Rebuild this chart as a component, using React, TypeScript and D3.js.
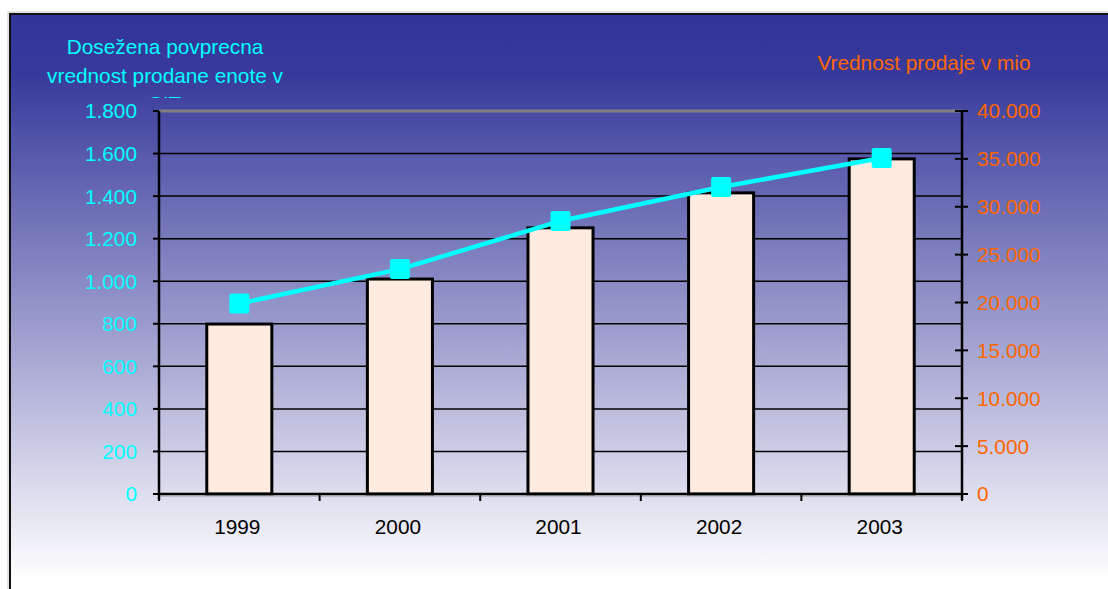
import React from 'react';
import * as d3 from 'd3';

const years = ['1999', '2000', '2001', '2002', '2003'];
const avgUnitValue = [895, 1057, 1283, 1443, 1579];
const salesMio = [17750, 22450, 27800, 31450, 35000];
const leftTicks = [0, 200, 400, 600, 800, 1000, 1200, 1400, 1600, 1800];
const rightTicks = [0, 5000, 10000, 15000, 20000, 25000, 30000, 35000, 40000];
const leftTitle = ['Dosežena povprecna', 'vrednost prodane enote v', 'SIT'];
const rightTitle = 'Vrednost prodaje v mio';

const W = 1108;
const H = 589;
const plot = { left: 159, right: 962, top: 111, bottom: 494 };
const FONT = 'Liberation Sans, Arial, sans-serif';
const FS = 20.8;

const fmt = (v: number) => {
  const s = String(v);
  return s.replace(/\B(?=(\d{3})+(?!\d))/g, '.');
};

export default function App() {
  const x = d3.scaleBand<string>().domain(years).range([plot.left, plot.right]).paddingInner(0).paddingOuter(0);
  const yL = d3.scaleLinear().domain([0, 1800]).range([plot.bottom, plot.top]);
  const yR = d3.scaleLinear().domain([0, 40000]).range([plot.bottom, plot.top]);
  const bw = x.bandwidth();
  const barW = bw * 0.405;
  const line = d3
    .line<number>()
    .x((_, i) => (x(years[i]) as number) + bw / 2)
    .y((d) => yL(d));

  const boundaries = d3.range(years.length + 1).map((i) => plot.left + i * bw);

  return (
    <svg width={W} height={H} style={{ position: 'absolute', left: 0, top: 0, display: 'block' }}>
      <defs>
        <linearGradient id="bg" x1="0" y1="0" x2="0" y2="1" gradientUnits="objectBoundingBox">
          <stop offset="0" stopColor="#333399" />
          <stop offset="0.1" stopColor="#383a9b" />
          <stop offset="0.93" stopColor="#ffffff" />
          <stop offset="1" stopColor="#ffffff" />
        </linearGradient>
        <clipPath id="titleClip">
          <rect x={0} y={20} width={400} height={78} />
        </clipPath>
      </defs>
      <rect x={0} y={0} width={W} height={H} fill="#ffffff" />
      <rect x={8} y={12} width={W + 20} height={H + 20} fill="none" stroke="#c8c8c8" strokeWidth={1} />
      <rect x={10} y={14} width={W + 20} height={H + 20} fill="url(#bg)" stroke="#111111" strokeWidth={2} />

      {/* gridlines */}
      {leftTicks.slice(1, -1).map((t) => (
        <line key={t} x1={plot.left} x2={plot.right} y1={yL(t)} y2={yL(t)} stroke="#000" strokeWidth={1.5} />
      ))}
      {/* plot top border */}
      <line x1={plot.left} x2={plot.right} y1={plot.top} y2={plot.top} stroke="#808080" strokeWidth={3} />

      {/* bars */}
      {salesMio.map((v, i) => {
        const cx = (x(years[i]) as number) + bw / 2;
        return (
          <rect
            key={years[i]}
            x={cx - barW / 2}
            y={yR(v)}
            width={barW}
            height={plot.bottom - yR(v)}
            fill="#FFEBE0"
            stroke="#000"
            strokeWidth={3}
          />
        );
      })}

      {/* axes */}
      <line x1={plot.left} x2={plot.left} y1={plot.top} y2={plot.bottom + 6} stroke="#000" strokeWidth={2.5} />
      <line x1={plot.right} x2={plot.right} y1={plot.top} y2={plot.bottom + 6} stroke="#000" strokeWidth={2.5} />
      <line x1={plot.left} x2={plot.right} y1={plot.bottom} y2={plot.bottom} stroke="#000" strokeWidth={2.5} />
      <line x1={plot.left} x2={plot.right} y1={plot.bottom + 2} y2={plot.bottom + 2} stroke="#999" strokeWidth={1} />

      {leftTicks.map((t) => (
        <g key={t}>
          <line x1={plot.left - 6} x2={plot.left} y1={yL(t)} y2={yL(t)} stroke="#000" strokeWidth={2} />
          <text x={137} y={yL(t)} dy="0.36em" textAnchor="end" fill="#00FFFF" fontFamily={FONT} fontSize={FS}>
            {fmt(t)}
          </text>
        </g>
      ))}
      {rightTicks.map((t) => (
        <g key={t}>
          <line x1={plot.right - 7} x2={plot.right + 6} y1={yR(t)} y2={yR(t)} stroke="#000" strokeWidth={2} />
          <text x={977} y={yR(t)} dy="0.36em" textAnchor="start" fill="#FF6600" fontFamily={FONT} fontSize={FS}>
            {fmt(t)}
          </text>
        </g>
      ))}
      {boundaries.map((b, i) => (
        <line key={i} x1={b} x2={b} y1={plot.bottom} y2={plot.bottom + 7} stroke="#000" strokeWidth={2} />
      ))}
      {years.map((yr) => (
        <text
          key={yr}
          x={(x(yr) as number) + bw / 2 - 2}
          y={534}
          textAnchor="middle"
          fill="#000"
          fontFamily={FONT}
          fontSize={FS}
        >
          {yr}
        </text>
      ))}

      {/* line series */}
      <path d={line(avgUnitValue) || ''} fill="none" stroke="#00FFFF" strokeWidth={4.5} />
      {avgUnitValue.map((v, i) => {
        const cx = (x(years[i]) as number) + bw / 2;
        return <rect key={i} x={cx - 10} y={yL(v) - 10} width={20} height={20} rx={2} fill="#00FFFF" />;
      })}

      {/* titles */}
      <g clipPath="url(#titleClip)">
        {leftTitle.map((s, i) => (
          <text key={i} x={165} y={54 + i * 28.5} textAnchor="middle" fill="#00FFFF" fontFamily={FONT} fontSize={FS}>
            {s}
          </text>
        ))}
      </g>
      <text x={924} y={70} textAnchor="middle" fill="#FF6600" fontFamily={FONT} fontSize={FS}>
        {rightTitle}
      </text>
    </svg>
  );
}
